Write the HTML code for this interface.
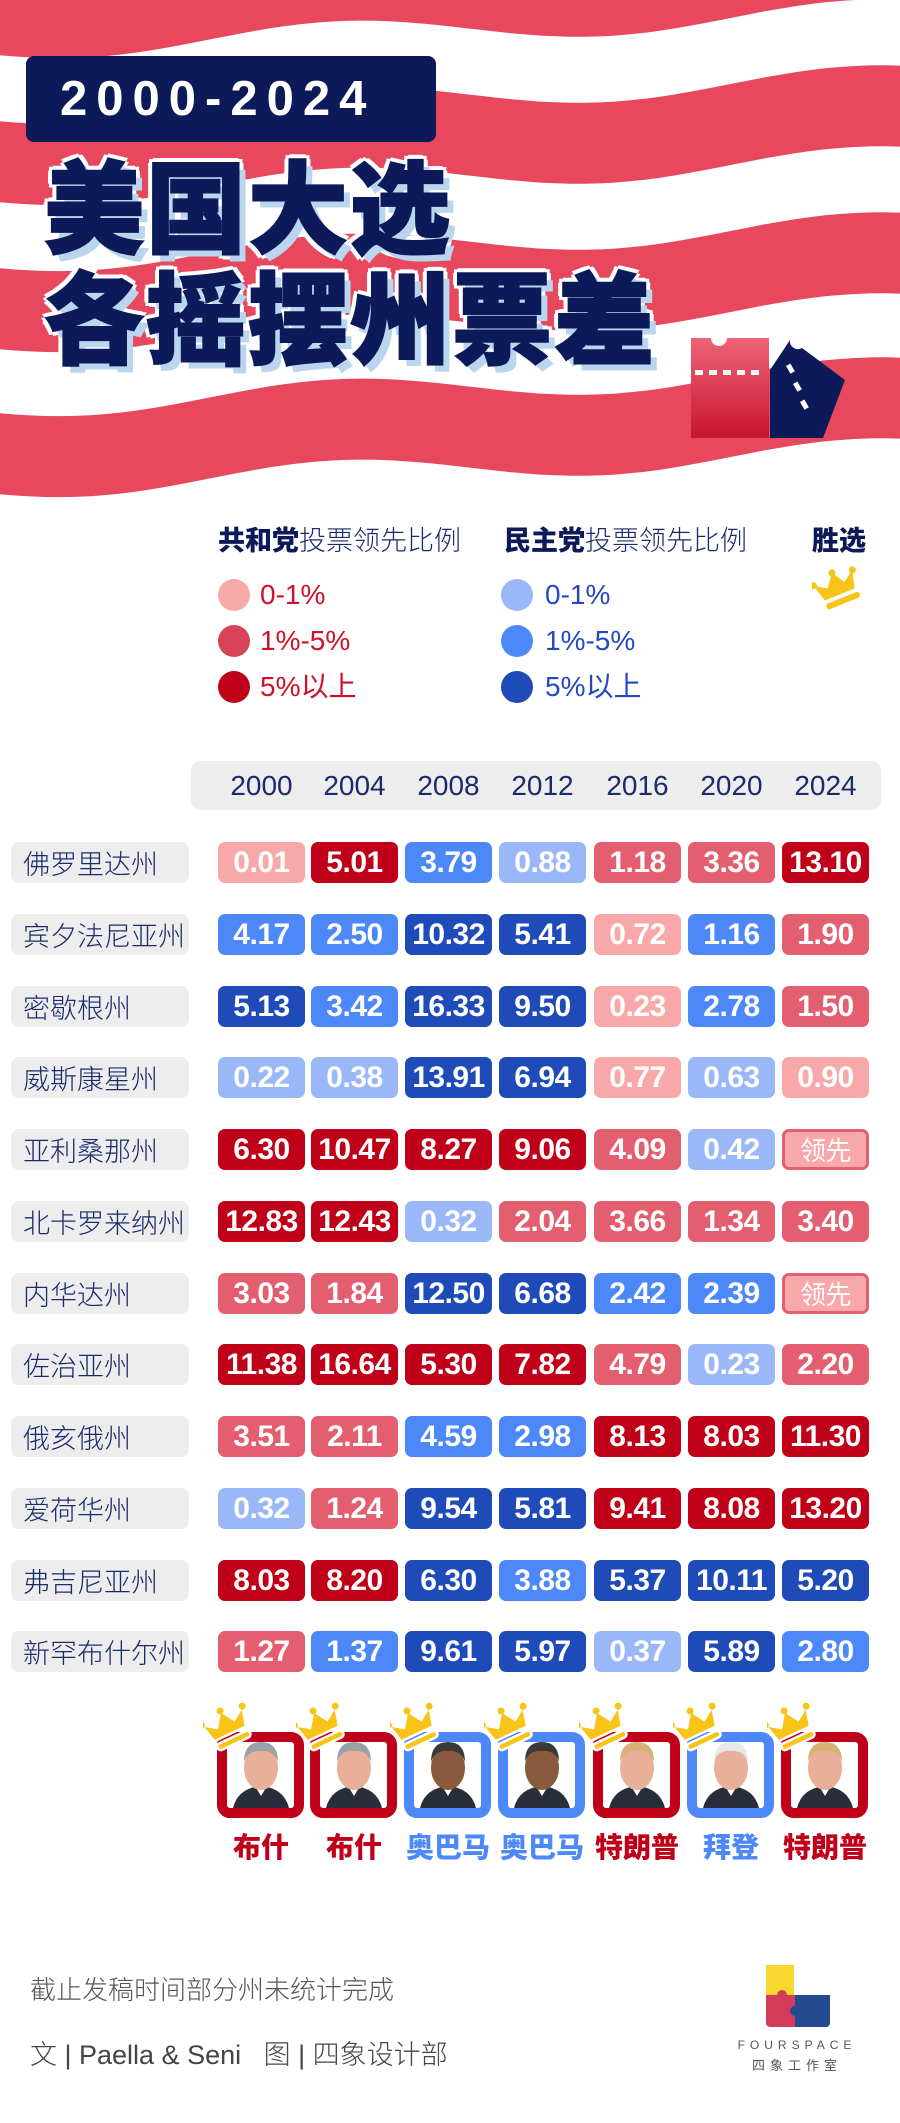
<!DOCTYPE html>
<html><head><meta charset="utf-8"><style>
*{margin:0;padding:0;box-sizing:border-box}
body{width:900px;height:2123px;background:#fff;position:relative;overflow:hidden;font-family:"Liberation Sans","Noto Sans CJK SC",sans-serif}
.a{position:absolute}
.t{font-family:"Noto Sans CJK SC",sans-serif;font-weight:900;font-size:100px;line-height:100px;color:#0c1a5a;letter-spacing:2px;-webkit-text-stroke:2px #0c1a5a;
text-shadow:7px 7px 0 #b9d6ee,-4px -4px 0 #fff,4px -4px 0 #fff,-4px 4px 0 #fff,4px 4px 0 #fff,0 5px 0 #fff,0 -5px 0 #fff,5px 0 0 #fff,-5px 0 0 #fff}
.lh{font-size:27px;color:#1a2a6a;font-family:"Liberation Sans","Noto Sans CJK SC",sans-serif;font-weight:300;line-height:30px}
.lh b{font-weight:900;color:#0c1a5a}
.dot{width:32px;height:32px;border-radius:50%}
.lt{font-size:28px;line-height:32px;font-family:"Liberation Sans","Noto Sans CJK SC",sans-serif}
.lab{left:11px;width:178px;height:41px;background:#ededed;border-radius:8px;font-size:27px;line-height:41px;padding-left:12px;color:#1a2a6a;font-family:"Noto Sans CJK SC",sans-serif;font-weight:300}
.c{width:87px;height:41px;border-radius:7px;color:#fff;text-align:center;font-family:"Liberation Sans Narrow","Liberation Sans",sans-serif;font-weight:bold;font-size:30px;line-height:41px;letter-spacing:-0.5px}
.yr{top:761px;height:49px;width:87px;text-align:center;font-size:28px;line-height:49px;color:#1a2a6a;font-family:"Liberation Sans Narrow","Liberation Sans",sans-serif}
.nm{top:1828px;width:110px;text-align:center;font-family:"Noto Sans CJK SC",sans-serif;font-weight:900;font-size:28px;line-height:36px;text-shadow:-2px -2px 0 #fff,2px -2px 0 #fff,-2px 2px 0 #fff,2px 2px 0 #fff}
</style></head><body>
<svg class="a" style="left:0;top:0" width="900" height="500" id="st"></svg>
<div class="a" style="left:26px;top:56px;width:410px;height:86px;background:#0c1a5a;border-radius:8px"></div>
<div class="a" style="left:60px;top:70px;font-size:49px;line-height:58px;font-weight:bold;color:#fff;letter-spacing:9px">2000-2024</div>
<div class="a t" style="left:44px;top:152px">美国大选</div>
<div class="a t" style="left:44px;top:263px">各摇摆州票差</div>
<svg class="a" style="left:685px;top:330px" width="170" height="110">
<defs><linearGradient id="g" x1="0" y1="0" x2="0" y2="1"><stop offset="0" stop-color="#ee6478"/><stop offset="1" stop-color="#c8142e"/></linearGradient></defs>
<path d="M6 8 h20 a8 8 0 0 0 16 0 h42 v100 h-78z" fill="url(#g)"/>
<g fill="#fff"><rect x="10" y="40" width="8" height="5"/><rect x="24" y="40" width="8" height="5"/><rect x="38" y="40" width="8" height="5"/><rect x="52" y="40" width="8" height="5"/><rect x="66" y="40" width="8" height="5"/></g>
<path d="M85 108 V40 L105 10 a8 8 0 0 0 12 8 L160 50 L138 108z" fill="#0c1a5a"/>
<g fill="#fff"><rect x="101" y="36" width="5" height="9" transform="rotate(-30 101 36)"/><rect x="108" y="54" width="5" height="9" transform="rotate(-30 108 54)"/><rect x="115" y="72" width="5" height="9" transform="rotate(-30 115 72)"/></g>
</svg>

<div class="a lh" style="left:218px;top:526px"><b>共和党</b>投票领先比例</div>
<div class="a lh" style="left:504px;top:526px"><b>民主党</b>投票领先比例</div>
<div class="a lh" style="left:812px;top:526px"><b>胜选</b></div>
<svg class="a" style="left:812px;top:564px" width="56" height="52"><g transform="rotate(-22 28 26)"><path d="M10 30 L5 12 L17 20 L27 7 L35 20 L47 12 L42 30z" fill="#f8c418"/><circle cx="5" cy="12" r="3.5" fill="#f8c418"/><circle cx="27" cy="7" r="3.5" fill="#f8c418"/><circle cx="47" cy="12" r="3.5" fill="#f8c418"/><rect x="9" y="34" width="36" height="6" rx="3" fill="#f8c418"/></g></svg>

<div class="a dot" style="left:218px;top:579px;background:#f8a8a8"></div>
<div class="a dot" style="left:218px;top:625px;background:#d84358"></div>
<div class="a dot" style="left:218px;top:671px;background:#c00018"></div>
<div class="a lt" style="left:260px;top:579px;color:#d0102a">0-1%</div>
<div class="a lt" style="left:260px;top:625px;color:#d0102a">1%-5%</div>
<div class="a lt" style="left:260px;top:671px;color:#d0102a">5%以上</div>
<div class="a dot" style="left:501px;top:579px;background:#9ab8f8"></div>
<div class="a dot" style="left:501px;top:625px;background:#4d88f8"></div>
<div class="a dot" style="left:501px;top:671px;background:#1f4bb8"></div>
<div class="a lt" style="left:545px;top:579px;color:#2448c0">0-1%</div>
<div class="a lt" style="left:545px;top:625px;color:#2448c0">1%-5%</div>
<div class="a lt" style="left:545px;top:671px;color:#2448c0">5%以上</div>

<div class="a" style="left:191px;top:761px;width:690px;height:49px;background:#ededed;border-radius:10px"></div>
<div id="tbl"></div>

<div class="a" style="left:30px;top:1972px;font-size:26px;line-height:34px;color:#555;font-family:'Noto Sans CJK SC',sans-serif;font-weight:300">截止发稿时间部分州未统计完成</div>
<div class="a" style="left:30px;top:2038px;font-size:27px;line-height:34px;color:#444;font-family:'Liberation Sans','Noto Sans CJK SC',sans-serif;font-weight:300">文 | Paella &amp; Seni&nbsp;&nbsp;&nbsp;图 | 四象设计部</div>
<svg class="a" style="left:764px;top:1963px" width="70" height="66">
<path d="M2 2 h28 v30 h-28z" fill="#f8d830"/><path d="M2 32 h29 v32 h-25 a4 4 0 0 1 -4 -4z" fill="#d23c58"/><path d="M31 32 h35 v28 a4 4 0 0 1 -4 4 h-31z" fill="#244a90"/><circle cx="31" cy="48" r="5" fill="#244a90"/><circle cx="18" cy="32" r="5" fill="#d23c58"/></svg>
<div class="a" style="left:729px;top:2038px;width:136px;text-align:center;font-size:12px;letter-spacing:5px;color:#555">FOURSPACE</div>
<div class="a" style="left:729px;top:2055px;width:136px;text-align:center;font-size:13px;letter-spacing:5px;color:#555;font-family:'Noto Sans CJK SC',sans-serif">四象工作室</div>
<div id="pres"></div>
<script>
(function(){
 var s='';var cs=[8,155,302,447];
 cs.forEach(function(c0){
  var top=[],bot=[];
  for(var x=0;x<=900;x+=15){
   var c=c0-0.041*x+13*Math.sin(2*Math.PI*x/520+0.6);
   top.push(x+','+(c-41).toFixed(1));bot.unshift(x+','+(c+40).toFixed(1));
  }
  s+='<polygon fill="#e8485e" points="'+top.concat(bot).join(' ')+'"/>';
 });
 document.getElementById('st').innerHTML=s;
})();
var C={lp:'#f8a8a8',mr:'#e35e6e',dr:'#c00018',lb:'#9ab8f8',mb:'#4d88f8',db:'#1f4bb8'};
var X=[218,311,405,499,594,688,782];
var yrs=['2000','2004','2008','2012','2016','2020','2024'];
var D=[['佛罗里达州','0.01 lp,5.01 dr,3.79 mb,0.88 lb,1.18 mr,3.36 mr,13.10 dr'],
['宾夕法尼亚州','4.17 mb,2.50 mb,10.32 db,5.41 db,0.72 lp,1.16 mb,1.90 mr'],
['密歇根州','5.13 db,3.42 mb,16.33 db,9.50 db,0.23 lp,2.78 mb,1.50 mr'],
['威斯康星州','0.22 lb,0.38 lb,13.91 db,6.94 db,0.77 lp,0.63 lb,0.90 lp'],
['亚利桑那州','6.30 dr,10.47 dr,8.27 dr,9.06 dr,4.09 mr,0.42 lb,领先 ld'],
['北卡罗来纳州','12.83 dr,12.43 dr,0.32 lb,2.04 mr,3.66 mr,1.34 mr,3.40 mr'],
['内华达州','3.03 mr,1.84 mr,12.50 db,6.68 db,2.42 mb,2.39 mb,领先 ld'],
['佐治亚州','11.38 dr,16.64 dr,5.30 dr,7.82 dr,4.79 mr,0.23 lb,2.20 mr'],
['俄亥俄州','3.51 mr,2.11 mr,4.59 mb,2.98 mb,8.13 dr,8.03 dr,11.30 dr'],
['爱荷华州','0.32 lb,1.24 mr,9.54 db,5.81 db,9.41 dr,8.08 dr,13.20 dr'],
['弗吉尼亚州','8.03 dr,8.20 dr,6.30 db,3.88 mb,5.37 db,10.11 db,5.20 db'],
['新罕布什尔州','1.27 mr,1.37 mb,9.61 db,5.97 db,0.37 lb,5.89 db,2.80 mb']];
var h='';
yrs.forEach(function(y,i){h+='<div class="a yr" style="left:'+X[i]+'px">'+y+'</div>';});
D.forEach(function(r,k){
 var t=Math.round(842+71.75*k);
 h+='<div class="a lab" style="top:'+t+'px">'+r[0]+'</div>';
 r[1].split(',').forEach(function(v,i){
  var p=v.split(' ');
  if(p[1]=='ld'){h+='<div class="a c" style="left:'+X[i]+'px;top:'+t+'px;background:#f8a8a8;border:3px solid #e35e6e;line-height:35px;font-family:\'Noto Sans CJK SC\',sans-serif;font-weight:400;font-size:26px">'+p[0]+'</div>';}
  else h+='<div class="a c" style="left:'+X[i]+'px;top:'+t+'px;background:'+C[p[1]]+'">'+p[0]+'</div>';
 });
});
document.getElementById('tbl').innerHTML=h;
var P=[['布什','#c00018','#9aa0a8'],['布什','#c00018','#9aa0a8'],['奥巴马','#4d88f8','#3a3a3a'],['奥巴马','#4d88f8','#3a3a3a'],['特朗普','#c00018','#d8b078'],['拜登','#4d88f8','#e8e8ec'],['特朗普','#c00018','#d8b078']];
var q='';
P.forEach(function(p,i){
 var x=X[i]-1;
 var skin=(i==2||i==3)?'#8a5a3c':'#e8b098';
 q+='<svg class="a" style="left:'+(x-14)+'px;top:1700px" width="104" height="122">'+
 '<rect x="19" y="37" width="77" height="76" rx="8" fill="#fff" stroke="'+p[1]+'" stroke-width="10"/>'+
 '<path d="M30 108 q5 -20 28 -22 q23 2 28 22z" fill="#2a2e3a"/>'+
 '<path d="M52 86 l6 10 l6 -10z" fill="#fff"/>'+
 '<ellipse cx="58" cy="68" rx="17" ry="22" fill="'+skin+'"/>'+
 '<path d="M41 62 q0 -20 17 -20 q17 0 17 20 q-4 -12 -17 -11 q-13 -1 -17 11z" fill="'+p[2]+'"/>'+
 '<g transform="rotate(-25 26 30)" stroke="#fff" stroke-width="2.5"><path d="M8 34 L3 14 L16 23 L26 9 L35 23 L48 14 L43 34z" fill="#f8c418"/><rect x="8" y="38" width="36" height="7" rx="3.5" fill="#f8c418"/></g>'+
 '<g transform="rotate(-25 26 30)" fill="#f8c418"><circle cx="3" cy="14" r="3.5"/><circle cx="26" cy="9" r="3.5"/><circle cx="48" cy="14" r="3.5"/></g>'+
 '</svg>';
 q+='<div class="a nm" style="left:'+(x-11)+'px;color:'+p[1]+'">'+p[0]+'</div>';
});
document.getElementById('pres').innerHTML=q;
</script>
</body></html>
